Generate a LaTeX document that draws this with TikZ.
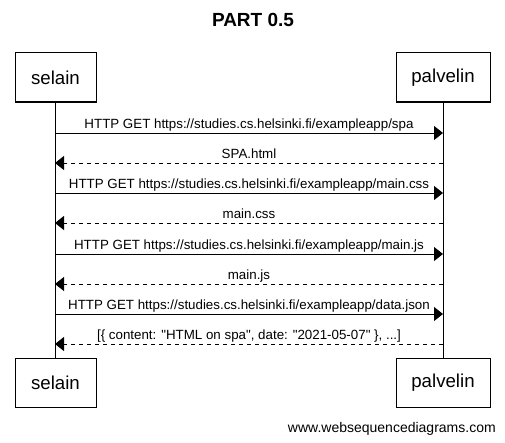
\documentclass[tikz,border=0pt]{standalone}
\usepackage{fontspec}
\setmainfont{Liberation Sans}
\usetikzlibrary{arrows.meta}
\begin{document}
\begin{tikzpicture}[x=0.75pt,y=-0.75pt,
  part/.style={draw,line width=0.75pt,minimum width=#1,minimum height=36.75pt,inner sep=0pt,font=\fontsize{14}{16}\selectfont},
  life/.style={line width=0.75pt},
  msg/.style={line width=0.75pt,-{Triangle[length=6.75pt,width=10.5pt]}},
  reply/.style={msg,dash pattern=on 3pt off 3pt},
  lbl/.style={font=\fontsize{10}{11}\selectfont,anchor=base,inner sep=0pt}]
\useasboundingbox (0,0) rectangle (505,442);
\node[font=\bfseries\fontsize{14.25}{16}\selectfont] (title) at (253,20) {PART 0.5};
\node[part=60.75pt] (s1) at (55.5,77.5) {selain};
\node[part=70.5pt] (p1) at (443,77.5) {palvelin};
\node[part=60.75pt] (s2) at (55.5,382.5) {selain};
\node[part=70.5pt] (p2) at (443,382.5) {palvelin};
\coordinate (sx) at (55,0);
\coordinate (px) at (443,0);
\draw[life] (s1.south -| sx) -- (s2.north -| sx);
\draw[life] (p1.south -| px) -- (p2.north -| px);
\foreach \y/\dir/\txt [count=\i] in {
  133/r/{HTTP GET https://studies.cs.helsinki.fi/exampleapp/spa},
  163/l/{SPA.html},
  193/r/{HTTP GET https://studies.cs.helsinki.fi/exampleapp/main.css},
  223/l/{main.css},
  254/r/{HTTP GET https://studies.cs.helsinki.fi/exampleapp/main.js},
  284/l/{main.js},
  314/r/{HTTP GET https://studies.cs.helsinki.fi/exampleapp/data.json},
  344/l/{[\{ content: \textquotedbl HTML on spa\textquotedbl, date: \textquotedbl 2021-05-07\textquotedbl\ \}, ...]}} {
  \coordinate (a\i) at (55,\y);
  \coordinate (b\i) at (443,\y);
  \if r\dir
    \draw[msg] (a\i) -- (b\i);
  \else
    \draw[reply] (b\i) -- (a\i);
  \fi
  \node[lbl] (t\i) at (249,\y-5) {\txt};
}
\node[font=\fontsize{10.5}{12}\selectfont,anchor=base east,inner sep=0pt] (foot) at (496,432) {www.websequencediagrams.com};
\end{tikzpicture}
\end{document}
